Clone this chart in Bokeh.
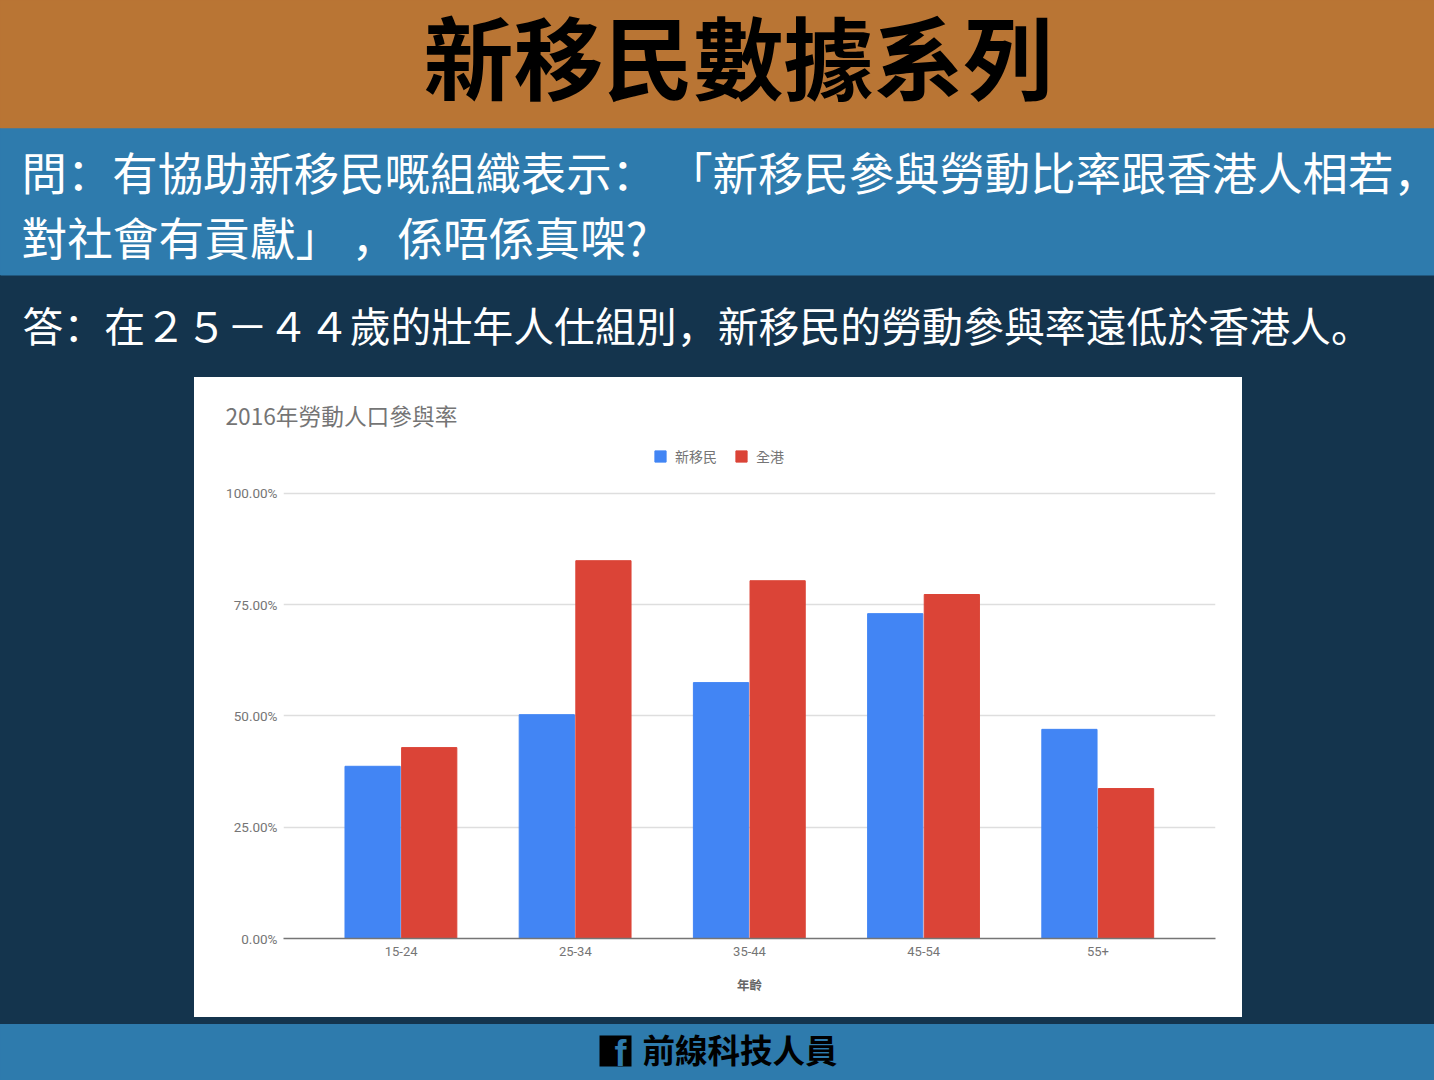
from bokeh.plotting import figure
from bokeh.layouts import column, row
from bokeh.models import FactorRange, Range1d, FixedTicker, Legend, LegendItem, ColumnDataSource, Title, Spacer
from bokeh.transform import dodge
from bokeh.core.properties import value
from bokeh.embed import file_html
from bokeh.resources import INLINE

categories = ["15-24", "25-34", "35-44", "45-54", "55+"]
new_immigrants = [38.7, 50.3, 57.5, 73.0, 47.0]
all_hk = [42.9, 84.9, 80.4, 77.3, 33.7]
y_ticks = [0, 25, 50, 75, 100]
y_tick_labels = ["0.00%", "25.00%", "50.00%", "75.00%", "100.00%"]
series_names = ["新移民", "全港"]
chart_title = "2016年勞動人口參與率"
x_title = "年齡"
banner = "新移民數據系列"
question_1 = "問：有協助新移民嘅組織表示：\u00a0「新移民參與勞動比率跟香港人相若，"
question_2 = "對社會有貢獻」\u00a0，係唔係真㗎?"
answer = "答：在２５－４４歲的壯年人仕組別，新移民的勞動參與率遠低於香港人。"
footer_text = "前線科技人員"

ORANGE, BLUE, NAVY = "#b97534", "#2e7bad", "#14344d"
CJK = value("Noto Sans CJK TC")
CJK_BODY = value("Noto Sans CJK SC")


def panel(w, h, x0, y0, css):
    f = figure(width=w, height=h, x_range=Range1d(x0, x0 + w), y_range=Range1d(y0 + h, y0),
               x_axis_location=None, y_axis_location=None, toolbar_location=None,
               output_backend="svg", min_border=0, outline_line_color=None,
               background_fill_color=None, border_fill_color=None,
               styles={"background": css})
    f.grid.visible = False
    return f


# header
head = panel(1434, 377, 0, 0,
             f"linear-gradient({ORANGE} 0 128px, {BLUE} 128px 275px, {NAVY} 275px)")
head.quad(left=-2, right=1436, top=-2, bottom=128, fill_color=ORANGE, line_color=None)
head.quad(left=-2, right=1436, top=128, bottom=275, fill_color=BLUE, line_color=None)
head.text(x=[738], y=[53], text=[banner], text_font=CJK, text_font_style="bold",
          text_font_size="90px", text_align="center", text_baseline="middle", text_color="#000000")
head.text(x=[21], y=[170], text=[question_1], text_font=CJK_BODY, text_font_size="45.4px",
          text_baseline="middle", text_color="#ffffff")
head.text(x=[21], y=[235], text=[question_2], text_font=CJK_BODY, text_font_size="45.7px",
          text_baseline="middle", text_color="#ffffff")
head.text(x=[22], y=[324], text=[answer], text_font=CJK_BODY, text_font_size="40.9px",
          text_baseline="middle", text_color="#ffffff")

left = Spacer(width=194, height=640, styles={"background-color": NAVY})
right = Spacer(width=192, height=640, styles={"background-color": NAVY})

# chart
src = ColumnDataSource(dict(cat=categories, a=new_immigrants, b=all_hk))
x_rng = FactorRange(factors=categories, range_padding=0.175, range_padding_units="absolute")
p = figure(width=1048, height=640, x_range=x_rng, y_range=Range1d(0, 111.91),
           toolbar_location=None, output_backend="svg",
           min_border_left=89, min_border_right=27, min_border_top=63, min_border_bottom=79,
           background_fill_color=None, border_fill_color=None, outline_line_color=None,
           styles={"background-color": "#ffffff"})
r1 = p.vbar(x=dodge("cat", -0.1635, range=x_rng), top="a", bottom=0, width=0.317, source=src, color="#4285f4")
r2 = p.vbar(x=dodge("cat", 0.1615, range=x_rng), top="b", bottom=0, width=0.317, source=src, color="#db4437")

p.xgrid.visible = False
p.ygrid.grid_line_color = "#dedede"
p.ygrid.grid_line_width = 1.5
p.yaxis.ticker = FixedTicker(ticks=y_ticks)
p.yaxis.major_label_overrides = dict(zip(y_ticks, y_tick_labels))
p.yaxis.axis_line_color = None
p.yaxis.major_tick_line_color = None
p.yaxis.minor_tick_line_color = None
p.yaxis.major_tick_out = 0
p.yaxis.major_label_standoff = 6
p.yaxis.major_label_text_font = "Roboto"
p.yaxis.major_label_text_font_size = "13.5px"
p.yaxis.major_label_text_color = "#757575"
p.xaxis.axis_line_color = "#757575"
p.xaxis.axis_line_width = 1.5
p.xaxis.major_tick_line_color = None
p.xaxis.major_tick_out = 0
p.xaxis.major_label_standoff = 8
p.xaxis.major_label_text_font = "Roboto"
p.xaxis.major_label_text_font_size = "13px"
p.xaxis.major_label_text_color = "#757575"
p.xaxis.axis_label = x_title
p.xaxis.axis_label_text_font = "Noto Sans CJK TC"
p.xaxis.axis_label_text_font_style = "bold"
p.xaxis.axis_label_text_font_size = "12.5px"
p.xaxis.axis_label_text_color = "#666666"
p.xaxis.axis_label_standoff = 16

legend = Legend(items=[LegendItem(label=series_names[0], renderers=[r1]),
                       LegendItem(label=series_names[1], renderers=[r2])],
                orientation="horizontal", location=(370, 472), border_line_color=None,
                background_fill_alpha=0, label_text_font="Noto Sans CJK TC",
                label_text_font_size="14px", label_text_color="#757575",
                glyph_width=14, glyph_height=14, spacing=17, label_standoff=8, padding=0, margin=0)
p.add_layout(legend, "center")
p.add_layout(Title(text=chart_title, text_font="Noto Sans CJK TC", text_font_size="22.7px",
                   text_font_style="normal", text_color="#757575", align="left",
                   offset=-58, standoff=17), "above")

# footer
foot = panel(1434, 63, 0, 1017, f"linear-gradient({NAVY} 0 7px, {BLUE} 7px)")
foot.quad(left=-2, right=1436, top=1024, bottom=1082, fill_color=BLUE, line_color=None)
foot.quad(left=599, right=631, top=1035, bottom=1066, fill_color="#000000", line_color=None)
foot.text(x=[614], y=[1053], text=["f"], text_font=value("Liberation Sans"), text_font_style="bold",
          text_font_size="36px", text_align="left", text_baseline="middle", text_color=BLUE)
foot.text(x=[642], y=[1048], text=[footer_text], text_font=CJK, text_font_style="bold",
          text_font_size="32.5px", text_baseline="middle", text_color="#000000")

page = column(head, row(left, p, right, spacing=0), foot, spacing=0)
open("out.html", "w").write(file_html(page, INLINE))
